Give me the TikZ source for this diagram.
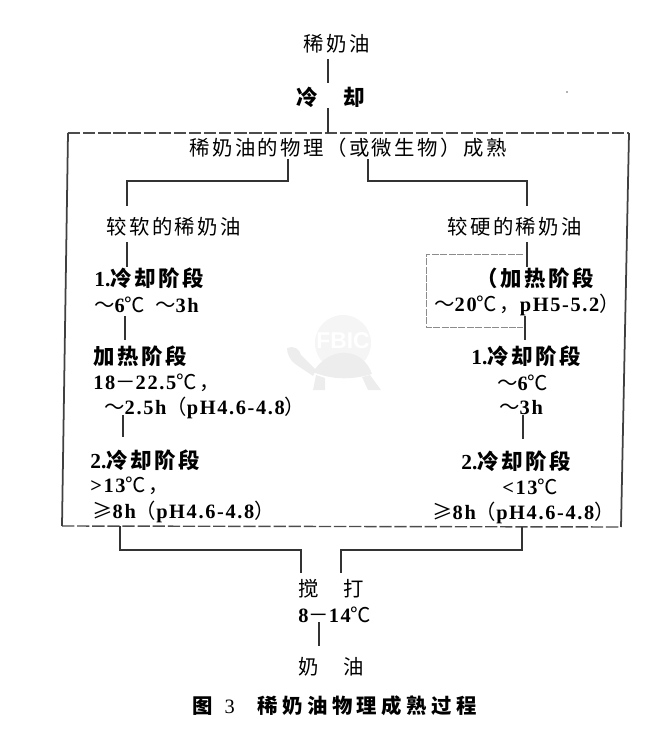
\documentclass[tikz,border=0pt]{standalone}
\usepackage{fontspec}
\setmainfont{Liberation Serif}
\newfontfamily\cjk[LetterSpace=12]{Noto Sans CJK SC}
\newfontfamily\cjkhead[LetterSpace=12]{Noto Sans CJK SC}
\newfontfamily\cjkcap[LetterSpace=22]{Noto Sans CJK SC}
\newfontfamily\latinspaced[LetterSpace=8]{Liberation Serif}
\newfontfamily\markfont{Liberation Sans}
\tikzset{
	lab/.style={anchor=west, inner sep=0pt, minimum height=0.44cm, font=\fontsize{11.6}{13}\selectfont\latinspaced\bfseries},
	head/.style={lab, font=\fontsize{12.2}{13}\selectfont\bfseries},
	conn/.style={line width=0.75pt, color=black!80},
	side/.style={line width=1pt, color=black!75},
	rim/.style={line width=0.8pt, color=black!70, dash pattern=on 7pt off 1.6pt},
	inner rim/.style={line width=0.35pt, color=black!45, dash pattern=on 4pt off 0.8pt},
	turtle/.style={fill=black!7}
}

\begin{document}
\begin{tikzpicture}[x=0.02cm, y=-0.02cm]
	\useasboundingbox (0, 0) rectangle (666, 742);
	
	%%%%% watermark %%%%%
	\fill[black!4] (343, 343) circle (28);
	\fill[turtle] (313, 372) .. controls (322, 358) and (335, 352) .. (345, 353) .. controls (358, 353) and (368, 362) .. (372, 374) .. controls (352, 380) and (332, 380) .. cycle;
	\fill[turtle] (287, 348) .. controls (293, 345) and (300, 349) .. (301, 355) -- (316, 370) -- (313, 376) -- (295, 364) .. controls (290, 360) and (287, 354) .. cycle;
	\fill[turtle] (313, 390) -- (316, 375) -- (325, 378) -- (325, 390) -- cycle;
	\fill[turtle] (362, 377) -- (370, 375) -- (381, 390) -- (368, 390) -- cycle;
	\node[inner sep=0pt, white, font=\fontsize{13}{14}\selectfont\markfont\bfseries] (markname) at (343, 341) {FBIC};
	
	%%%%% top %%%%%
	\node[lab] (cream) at (303, 44) {\cjk\mdseries 稀奶油};
	\node[head] (cool) at (296, 97) {\cjkhead\bfseries 冷\hspace{0.52cm}却};
	\node[lab] (ripen) at (189, 148) {\cjk\mdseries 稀奶油的物理（或微生物）成熟};
	\draw[conn, shorten <=0.08cm, shorten >=0.06cm] (cream.south -| 328, 0) -- (cool.north -| 328, 0);
	
	%%%%% frame %%%%%
	\coordinate (tl) at (68, 133);
	\coordinate (tr) at (629, 133);
	\coordinate (br) at (621, 527);
	\coordinate (bl) at (62, 526);
	\draw[rim] (tl) -- (tr);
	\draw[rim] (bl) -- (br);
	\draw[side] (tl) -- (bl);
	\draw[side] (tr) -- (br);
	\draw[conn] (cool.south -| 328, 0) -- (328, 133);
	
	%%%%% left column %%%%%
	\node[lab] (soft) at (106, 227) {\cjk\mdseries 较软的稀奶油};
	\node[head] (lcoola) at (94, 278) {1.{\cjkhead 冷却阶段}};
	\node[lab] (lcoolb) at (94, 305) {{\cjk\mdseries ～}6{\cjk\mdseries ℃}\hspace{0.2cm}{\cjk\mdseries ～}3h};
	\node[head] (lheata) at (93, 356) {\cjkhead 加热阶段};
	\node[lab] (lheatb) at (93, 383) {18{\cjk\mdseries －}22.5{\cjk\mdseries ℃，}};
	\node[lab] (lheatc) at (104, 408) {{\cjk\mdseries ～}2.5h{\cjk\mdseries （}pH4.6-4.8{\cjk\mdseries ）}};
	\node[head] (lcoolc) at (90, 460) {2.{\cjkhead 冷却阶段}};
	\node[lab] (lcoold) at (90, 486) {>13{\cjk\mdseries ℃，}};
	\node[lab] (lcoole) at (92, 512) {{\cjk\mdseries ≥}8h{\cjk\mdseries （}pH4.6-4.8{\cjk\mdseries ）}};
	
	\draw[conn, shorten >=0.2cm] (ripen.south -| 288, 0) -- (288, 181) -- (127, 181) -- (soft.north -| 127, 0);
	\draw[conn, shorten <=0.08cm] (soft.south -| 127, 0) -- (lcoola.north -| 127, 0);
	\draw[conn, shorten >=0.1cm] (lcoolb.south -| 125, 0) -- (lheata.north -| 125, 0);
	\draw[conn, shorten <=-0.08cm, shorten >=0.24cm] (lheatc.south -| 123, 0) -- (lcoolc.north -| 123, 0);
	
	%%%%% right column %%%%%
	\node[lab] (hard) at (447, 227) {\cjk\mdseries 较硬的稀奶油};
	\node[head] (rheata) at (476, 278) {\cjkhead\bfseries （加热阶段};
	\node[lab] (rheatb) at (434, 305) {{\cjk\mdseries ～}20{\cjk\mdseries ℃，}pH5-5.2{\cjk\mdseries ）}};
	\node[head] (rcoola) at (471, 356) {1.{\cjkhead 冷却阶段}};
	\node[lab] (rcoolb) at (497, 383) {{\cjk\mdseries ～}6{\cjk\mdseries ℃}};
	\node[lab] (rcoolc) at (499, 408) {{\cjk\mdseries ～}3h};
	\node[head] (rcoold) at (461, 461) {2.{\cjkhead 冷却阶段}};
	\node[lab] (rcoole) at (502, 487) {<13{\cjk\mdseries ℃}};
	\node[lab] (rcoolf) at (432, 513) {{\cjk\mdseries ≥}8h{\cjk\mdseries （}pH4.6-4.8{\cjk\mdseries ）}};
	
	\draw[inner rim] (523, 254) -- (426, 254) -- (426, 327) -- (523, 327);
	\draw[conn, shorten >=0.2cm] (ripen.south -| 368, 0) -- (368, 181) -- (527, 181) -- (hard.north -| 527, 0);
	\draw[conn, shorten <=0.08cm] (hard.south -| 527, 0) -- (rheata.north -| 527, 0);
	\draw[conn, shorten >=0.1cm] (rheatb.south -| 525, 0) -- (rcoola.north -| 525, 0);
	\draw[conn, shorten <=-0.08cm, shorten >=0.22cm] (rcoolc.south -| 523, 0) -- (rcoold.north -| 523, 0);
	
	%%%%% bottom %%%%%
	\node[lab] (churn) at (298, 589) {\cjk\mdseries 搅\hspace{0.5cm}打};
	\node[lab] (churnt) at (298, 615) {8{\cjk\mdseries －}14{\cjk\mdseries ℃}};
	\node[lab] (butter) at (298, 667) {\cjk\mdseries 奶\hspace{0.5cm}油};
	\node[lab, font=\fontsize{11.6}{13}\selectfont] (caption) at (192, 706) {{\cjkcap\bfseries 图}\hspace{0.24cm}3\hspace{0.45cm}{\cjkcap\bfseries 稀奶油物理成熟过程}};
	
	\draw[conn, shorten >=0.1cm] (120, 526) -- (120, 550) -- (301, 550) -- (churn.north -| 301, 0);
	\draw[conn, shorten >=0.1cm] (522, 527) -- (522, 550) -- (341, 550) -- (churn.north -| 341, 0);
	\draw[conn, shorten <=-0.08cm, shorten >=0.2cm] (churnt.south -| 319, 0) -- (butter.north -| 319, 0);
	
	\fill[black!60] (567, 92) circle (0.8);
\end{tikzpicture}
\end{document}
